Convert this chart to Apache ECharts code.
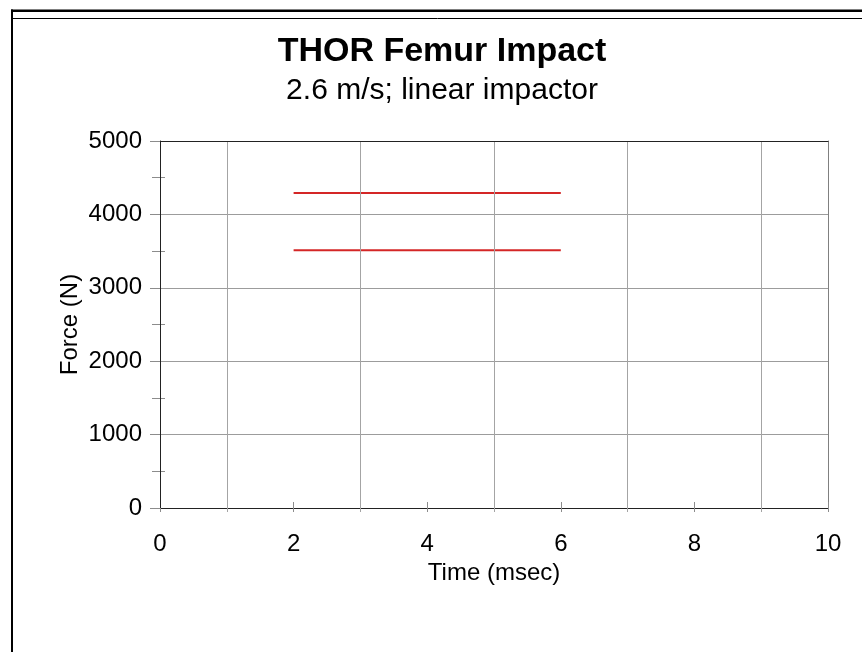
<!DOCTYPE html>
<html>
<head>
<meta charset="utf-8">
<title>THOR Femur Impact</title>
<script src="https://cdn.jsdelivr.net/npm/echarts@6/dist/echarts.min.js"></script>
<style>
  html, body { margin: 0; padding: 0; background: #fff; }
  #chart { width: 862px; height: 652px; }
</style>
</head>
<body>
<div id="chart"></div>
<script>
// corridor bounds (time in msec, force in N)
const corridorTime = [2, 6];
const upperForce = [4290, 4290];
const lowerForce = [3510, 3510];

const titleText = 'THOR Femur Impact';
const subtitleText = '2.6 m/s; linear impactor';

const FONT = '"Liberation Sans", Arial, sans-serif';
const GRID_GRAY = '#a4a4a4';
const TICK_GRAY = '#8c8c8c';

const chart = echarts.init(document.getElementById('chart'));

function pairs(xs, ys) {
  return xs.map((x, i) => [x, ys[i]]);
}

chart.setOption({
  animation: false,
  backgroundColor: '#fff',
  textStyle: { fontFamily: FONT },
  grid: { left: 160, right: 34, top: 141, bottom: 144 },
  graphic: [
    // picture frame
    { type: 'rect', shape: { x: 11, y: 9.5, width: 851, height: 2.6 }, style: { fill: '#000' } },
    { type: 'rect', shape: { x: 11, y: 9.5, width: 2, height: 643 }, style: { fill: '#000' } },
    { type: 'line', shape: { x1: 13, y1: 18.5, x2: 862, y2: 18.5 }, style: { stroke: '#000', lineWidth: 1 } },
    {
      type: 'text', x: 442, y: 52,
      style: { text: titleText, textAlign: 'center', textVerticalAlign: 'middle',
        font: 'bold 34px ' + FONT, fill: '#000' }
    },
    {
      type: 'text', x: 442, y: 91,
      style: { text: subtitleText, textAlign: 'center', textVerticalAlign: 'middle',
        font: '30px ' + FONT, fill: '#000' }
    }
  ],
  xAxis: [
    {
      type: 'value', min: 0, max: 10, interval: 2, position: 'bottom',
      name: 'Time (msec)', nameLocation: 'middle', nameGap: 48,
      nameTextStyle: { fontSize: 24, color: '#000', fontFamily: FONT },
      axisLine: { onZero: false, lineStyle: { color: '#222', width: 1 } },
      axisTick: { length: 4, lineStyle: { color: TICK_GRAY } },
      axisLabel: { fontSize: 24, margin: 24, color: '#000', fontFamily: FONT },
      minorTick: { show: true, splitNumber: 2, length: 4, lineStyle: { color: GRID_GRAY } },
      splitLine: { show: false },
      minorSplitLine: { show: true, lineStyle: { color: GRID_GRAY, width: 1 } },
      z: 5
    },
    {
      // upper half of the crossing ticks
      type: 'value', min: 0, max: 10, interval: 2, position: 'bottom',
      axisLine: { show: false, onZero: false },
      axisTick: { inside: true, length: 6, lineStyle: { color: TICK_GRAY } },
      axisLabel: { show: false },
      splitLine: { show: false }
    },
    {
      // top border of the plot
      type: 'value', min: 0, max: 10, position: 'top',
      axisLine: { onZero: false, lineStyle: { color: '#222', width: 1 } },
      axisTick: { show: false },
      axisLabel: { show: false },
      splitLine: { show: false },
      z: 5
    }
  ],
  yAxis: [
    {
      type: 'value', min: 0, max: 5000, interval: 1000, position: 'left',
      name: 'Force (N)', nameLocation: 'middle', nameGap: 78, nameMoveOverlap: false,
      nameTextStyle: { fontSize: 24, color: '#000', fontFamily: FONT },
      axisLine: { show: true, onZero: false, lineStyle: { color: '#222', width: 1 } },
      axisTick: { show: true, length: 10, lineStyle: { color: TICK_GRAY } },
      axisLabel: { fontSize: 24, margin: 18, color: '#000', fontFamily: FONT,
        formatter: (v) => String(v) },
      minorTick: { show: true, splitNumber: 2, length: 8, lineStyle: { color: TICK_GRAY } },
      splitLine: { show: true, showMinLine: false, showMaxLine: false,
        lineStyle: { color: '#9c9c9c', width: 1 } },
      z: 5
    },
    {
      // inner half of the minor ticks
      type: 'value', min: 0, max: 5000, interval: 1000, position: 'left',
      axisLine: { show: false, onZero: false },
      axisTick: { show: false, inside: true },
      axisLabel: { show: false },
      minorTick: { show: true, splitNumber: 2, length: 5, lineStyle: { color: TICK_GRAY } },
      splitLine: { show: false }
    },
    {
      // right border of the plot
      type: 'value', min: 0, max: 5000, position: 'right',
      axisLine: { show: true, onZero: false, lineStyle: { color: '#808080', width: 1 } },
      axisTick: { show: false },
      axisLabel: { show: false },
      splitLine: { show: false }
    }
  ],
  series: [
    {
      name: 'upper', type: 'line', xAxisIndex: 0, yAxisIndex: 0,
      data: pairs(corridorTime, upperForce),
      symbol: 'none', lineStyle: { color: '#d42626', width: 2 }
    },
    {
      name: 'lower', type: 'line', xAxisIndex: 0, yAxisIndex: 0,
      data: pairs(corridorTime, lowerForce),
      symbol: 'none', lineStyle: { color: '#d42626', width: 2 }
    }
  ]
});
</script>
</body>
</html>
